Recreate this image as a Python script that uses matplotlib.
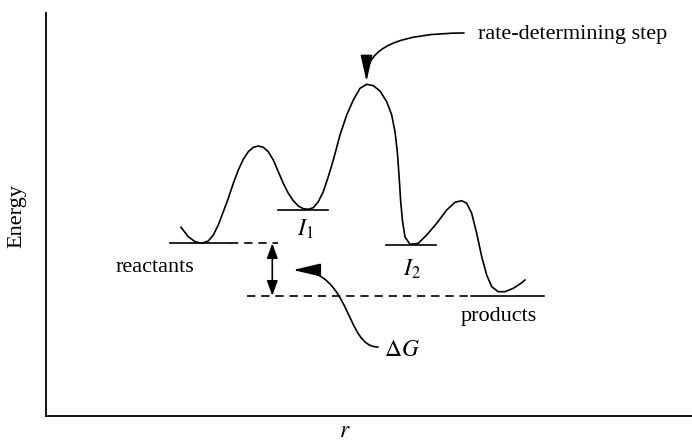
import matplotlib.pyplot as plt
from matplotlib.path import Path
from matplotlib.patches import FancyArrowPatch

plt.rcParams['font.family'] = 'Liberation Serif'
plt.rcParams['mathtext.fontset'] = 'stix'

# reaction coordinate / energy (pixel-ish units)
r_pts = [181, 188.3, 195, 201.7, 208.3, 213.3, 218.3, 223.3, 228.3, 233.3,
         238.3, 243.3, 248.3, 253.3, 258.3, 263.3, 268.3, 273.3, 278.3, 283.3,
         288.3, 293.3, 298.3, 303.3, 308.3, 313.3, 318.3, 323.3, 328.3, 333.3,
         340, 346.7, 353.3, 360, 366.7, 373.3, 380, 386.7, 391.7, 395,
         397.3, 399, 400.7, 402.5, 405, 410, 418.3, 426.7, 436.7, 446.7,
         455, 461.7, 466.7, 471.7, 476.7, 481.7, 486.7, 491.7, 498.3, 505,
         513.3, 520, 525]
energy_pts = [188.7, 179.3, 174.3, 172.7, 175, 181, 191, 204.3, 217.7, 232.7,
              246, 256.7, 264.3, 268.7, 270, 268.7, 264.3, 256, 244.3, 232.7,
              222.7, 215.3, 210, 207.3, 206.7, 208.3, 214.3, 224.3, 239.3, 256,
              281, 301, 316, 327.7, 331.7, 330.3, 325, 314.3, 301, 284.3,
              264.3, 241, 214.3, 195, 179, 171.7, 172.7, 181, 192.7, 206,
              213.7, 215.3, 212.7, 202.7, 182.7, 159.3, 141, 129.3, 124.3, 124.3,
              127.7, 132, 136]

# state levels: (energy, x start, x end)
level_names = ['reactants', 'I1', 'I2', 'products']
level_E = [172.7, 206.5, 170.8, 120.3]
level_x0 = [170, 278.3, 386, 470.7]
level_x1 = [230, 328.3, 436, 544.3]

# dashed guide lines
dash_E = [172.7, 120.3]
dash_x0 = [230, 246.7]
dash_x1 = [278.3, 470.7]

fig = plt.figure(figsize=(6.92, 4.43), dpi=100)
ax = fig.add_axes([46 / 692, 27 / 443, 646 / 692, 403 / 443])
ax.set_xlim(46, 692)
ax.set_ylim(0, 403)
for s in ['top', 'right']:
    ax.spines[s].set_visible(False)
for s in ['left', 'bottom']:
    ax.spines[s].set_linewidth(1.3)
ax.set_xticks([])
ax.set_yticks([])

ax.plot(r_pts, energy_pts, color='black', lw=1.2, solid_joinstyle='round')

for e, a, b in zip(level_E, level_x0, level_x1):
    ax.plot([a, b], [e, e], color='black', lw=1.2)
for e, a, b in zip(dash_E, dash_x0, dash_x1):
    ax.plot([a, b], [e, e], color='black', lw=1.2, dashes=(5, 3.5))

# delta G double arrow
ax.annotate('', xy=(272.3, dash_E[1]), xytext=(272.3, dash_E[0]),
            arrowprops=dict(arrowstyle='<|-|>,head_length=0.9,head_width=0.33',
                            color='black', lw=1.2, shrinkA=0, shrinkB=0))

fs = 16
ax.text(155, 148, 'reactants', fontsize=fs, ha='center', va='center')
ax.text(305, 187, r'$I_1$', fontsize=fs + 1, ha='center', va='center')
ax.text(412, 147, r'$I_2$', fontsize=fs + 1, ha='center', va='center')
ax.text(499, 99, 'products', fontsize=fs, ha='center', va='center')
ax.text(384, 65, r'$\Delta G$', fontsize=fs + 1, ha='left', va='center')
ax.text(478, 381, 'rate-determining step', fontsize=fs, ha='left', va='center')

# curved pointer arrows
ax.annotate('', xy=(366.5, 334.5), xytext=(464, 383),
            arrowprops=dict(arrowstyle='-|>,head_length=1.6,head_width=0.36',
                            color='black', lw=1.2, shrinkA=0, shrinkB=0,
                            connectionstyle='angle3,angleA=0,angleB=90'))

dg_path = Path([(378, 69), (345, 69), (352, 146), (293, 146)],
               [Path.MOVETO, Path.CURVE4, Path.CURVE4, Path.CURVE4])
ax.add_patch(FancyArrowPatch(path=dg_path, arrowstyle='-|>,head_length=1.7,head_width=0.4',
                             color='black', lw=1.2, mutation_scale=10))

fig.text(17 / 692, 1 - 216 / 443, 'Energy', fontsize=fs, rotation=90,
         ha='center', va='center')
fig.text(345 / 692, 1 - 437 / 443, r'$r$', fontsize=fs + 1, ha='center', va='baseline')

fig.savefig('out.png', dpi=100)
